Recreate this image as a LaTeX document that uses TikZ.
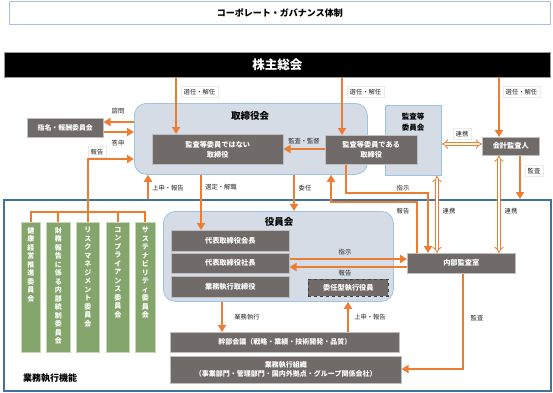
\documentclass[tikz,border=0pt]{standalone}
\usepackage{fontspec}
\setmainfont{Noto Sans CJK JP}
\usetikzlibrary{arrows.meta,calc}
\definecolor{orng}{HTML}{ED7D31}
\definecolor{dk}{HTML}{706B68}
\definecolor{lbfill}{HTML}{D6DCE5}
\definecolor{lbline}{HTML}{9DC3E6}
\definecolor{grn}{HTML}{84A56B}
\definecolor{grnline}{HTML}{C5D9B5}
\definecolor{navy}{HTML}{41719C}
\definecolor{titleline}{HTML}{A9C1DC}
\tikzset{
  box/.style={draw=black!25, line width=0.5pt, fill=dk, text=white, font=\fontsize{7.2}{10}\selectfont\bfseries, inner sep=0pt, anchor=north west, align=center},
  grp/.style={draw=lbline, line width=0.8pt, fill=lbfill, rounded corners=12pt, anchor=north west, inner sep=0pt},
  comm/.style={draw=grnline, line width=0.6pt, fill=grn, anchor=north west, inner sep=0pt, minimum height=130pt},
  commtext/.style={text=white, font=\fontsize{7}{8.5}\selectfont\bfseries, align=center, anchor=north, inner sep=0pt},
  arr/.style={draw=orng, line width=2.2pt, -{Triangle[width=8pt,length=7pt]}},
  ln/.style={draw=orng, line width=2.2pt},
  lbl/.style={font=\fontsize{6.3}{7}\selectfont, text=black!85, inner sep=1.5pt},
  lblb/.style={lbl, fill=white, draw=black!8, inner sep=2.5pt},
  dbl/.style={draw=orng, line width=0.8pt, double=white, double distance=2.4pt, {Implies}-{Implies}},
  hd/.style={font=\fontsize{9.5}{11}\selectfont\bfseries, inner sep=0pt},
}
\begin{document}
\begin{tikzpicture}[x=1pt,y=-1pt]
\useasboundingbox (0,0) rectangle (553,392);
\fill[white] (0,0) rectangle (553,392);

% title and shareholders
\node[draw=titleline, line width=0.8pt, fill=white, anchor=north west, minimum width=541pt, minimum height=23pt, inner sep=0pt, font=\fontsize{9}{10}\selectfont\bfseries] (title) at (9,1) {コーポレート・ガバナンス体制};
\node[draw=black!40, line width=0.5pt, fill=black, text=white, anchor=north west, minimum width=546pt, minimum height=25pt, inner sep=0pt, font=\fontsize{12.5}{14}\selectfont\bfseries] (bar) at (4,52) {株主総会};

% execution area frame
\node[draw=navy, line width=2pt, anchor=north west, minimum width=547pt, minimum height=191pt, inner sep=0pt] (exec) at (3,199) {};
\node[hd, font=\fontsize{9}{10}\selectfont\bfseries] (execlbl) at (50,378) {業務執行機能};

% board
\node[grp, minimum width=233pt, minimum height=71pt] (board) at (134,103) {};
\node[hd] (boardlbl) at (250,116) {取締役会};
\node[grp, rounded corners=0pt, minimum width=56pt, minimum height=70pt] (auditcomm) at (385,105) {};
\node[hd, font=\fontsize{7.5}{11}\selectfont\bfseries, align=center] (auditcommlbl) at (413,122) {監査等\\委員会};
\node[box, minimum width=131pt, minimum height=30pt] (nonaudit) at (152,134) {監査等委員ではない\\取締役};
\node[box, minimum width=92pt, minimum height=29pt] (auditdir) at (325,135) {監査等委員である\\取締役};
\node[box, minimum width=57pt, minimum height=18pt] (accountant) at (482,137) {会計監査人};
\node[box, minimum width=76pt, minimum height=19pt, font=\fontsize{6.9}{8}\selectfont\bfseries] (nomination) at (27,118) {指名・報酬委員会};

% committees
\node[comm, minimum width=19pt] (c1) at (21,222) {};
\node[comm, minimum width=24pt] (c2) at (46,222) {};
\node[comm, minimum width=23pt] (c3) at (76,222) {};
\node[comm, minimum width=23pt] (c4) at (106,222) {};
\node[comm, minimum width=20pt] (c5) at (135,222) {};
\node[commtext] (c1t) at ($(c1.north)+(0,5)$) {健\\康\\経\\営\\推\\進\\委\\員\\会};
\node[commtext] (c2t) at ($(c2.north)+(0,5)$) {財\\務\\報\\告\\に\\係\\る\\内\\部\\統\\制\\委\\員\\会};
\node[commtext] (c3t) at ($(c3.north)+(0,5)$) {リ\\ス\\ク\\マ\\ネ\\ジ\\メ\\ン\\ト\\委\\員\\会};
\node[commtext] (c4t) at ($(c4.north)+(0,5)$) {コ\\ン\\プ\\ラ\\イ\\ア\\ン\\ス\\委\\員\\会};
\node[commtext] (c5t) at ($(c5.north)+(0,5)$) {サ\\ス\\テ\\ナ\\ビ\\リ\\テ\\ィ\\委\\員\\会};

% officers
\node[grp, minimum width=230pt, minimum height=90pt] (officers) at (163,211) {};
\node[hd] (officerslbl) at (279,222) {役員会};
\node[box, minimum width=118pt, minimum height=21pt] (chair) at (171,230) {代表取締役会長};
\node[box, minimum width=118pt, minimum height=20pt] (pres) at (171,253) {代表取締役社長};
\node[box, minimum width=118pt, minimum height=21pt] (execdir) at (171,276) {業務執行取締役};
\node[box, draw=black!75, dashed, line width=0.8pt, minimum width=80pt, minimum height=17pt] (contract) at (308,279) {委任型執行役員};
\node[box, minimum width=108pt, minimum height=20pt] (internal) at (407,253) {内部監査室};
\node[box, minimum width=229pt, minimum height=20pt, font=\fontsize{7}{9}\selectfont\bfseries] (mgmt) at (170,332) {幹部会議（戦略・業績・技術開発・品質）};
\node[box, minimum width=231pt, minimum height=27pt, font=\fontsize{7}{9}\selectfont\bfseries] (orgbox) at (170,356) {業務執行組織\\（事業部門・管理部門・国内外拠点・グループ関係会社）};

% shareholders arrows
\draw[arr] (176,0 |- bar.south) -- (176,0 |- nonaudit.north);
\draw[arr] (342,0 |- bar.south) -- (342,0 |- auditdir.north);
\draw[arr] (499,0 |- bar.south) -- (499,0 |- accountant.north);
\node[lblb, anchor=west] (l1) at (181,92) {選任・解任};
\node[lblb, anchor=west] (l2) at (347,92) {選任・解任};
\node[lblb, anchor=west] (l3) at (503,92) {選任・解任};

% nomination
\draw[arr] (board.west |- 0,122) -- (nomination.east |- 0,122);
\draw[arr] (nomination.east |- 0,132) -- (board.west |- 0,132);
\node[lbl] (l4) at (118,111) {諮問};
\node[lbl] (l5) at (118,143) {答申};

% committees to board
\coordinate (br) at (c3.north |- 0,212);
\draw[ln] (c1.north) -- (c1.north |- br) -- (c5.north |- br) -- (c5.north);
\draw[ln] (c2.north) -- (c2.north |- br);
\draw[ln] (c4.north) -- (c4.north |- br);
\draw[arr] (c3.north) -- (c3.north |- 0,159) -- (board.west |- 0,159);
\node[lblb] (l6) at (97,152) {報告};

% board <-> exec
\draw[arr] (148,0 |- exec.north) -- (148,0 |- board.south);
\node[lbl] (l7) at (168,188) {上申・報告};
\draw[arr] (201,0 |- board.south) -- (201,0 |- chair.north);
\node[lbl] (l8) at (221,187) {選定・解職};
\draw[arr] (294,0 |- board.south) -- (294,0 |- officers.north);
\node[lbl] (l9) at (305,188) {委任};
\draw[arr] (auditdir.west |- 0,149) -- (nonaudit.east |- 0,149);
\node[lbl] (l10) at (304,141) {監査・監督};

% audit director <-> internal audit
\draw[arr] (346,0 |- auditdir.south) -- (346,193) -- (428,193) -- (428,0 |- internal.north);
\node[lbl] (l11) at (403,188) {指示};
\draw[arr] (417,0 |- internal.north) -- (417,202) -- (331,202) -- (331,0 |- board.south);
\node[lbl] (l12) at (403,211) {報告};

% cooperation
\draw[dbl] (437,0 |- auditcomm.south) -- (437,0 |- internal.north);
\node[lbl] (l13) at (449,211) {連携};
\draw[dbl] (499,0 |- accountant.south) -- (499,0 |- internal.north);
\node[lbl] (l14) at (511,211) {連携};
\draw[dbl] (auditcomm.east |- 0,144) -- (accountant.west |- 0,144);
\node[lblb] (l15) at (462,134) {連携};
\draw[arr] (520,0 |- accountant.south) -- (520,0 |- exec.north);
\node[lblb] (l16) at (534,171) {監査};

% president <-> internal
\draw[arr] (pres.east |- 0,259) -- (internal.west |- 0,259);
\node[lbl] (l17) at (345,252) {指示};
\draw[arr] (internal.west |- 0,267) -- (pres.east |- 0,267);
\node[lbl] (l18) at (345,273) {報告};

% officers <-> mgmt
\draw[arr] (222,0 |- officers.south) -- (222,0 |- mgmt.north);
\node[lbl] (l19) at (247,317) {業務執行};
\draw[arr] (348,0 |- mgmt.north) -- (348,0 |- officers.south);
\node[lbl] (l20) at (370,317) {上申・報告};
\draw[arr] (463,0 |- internal.south) -- (463,369) -- (orgbox.east |- 0,369);
\node[lbl] (l21) at (477,318) {監査};
\end{tikzpicture}
\end{document}
